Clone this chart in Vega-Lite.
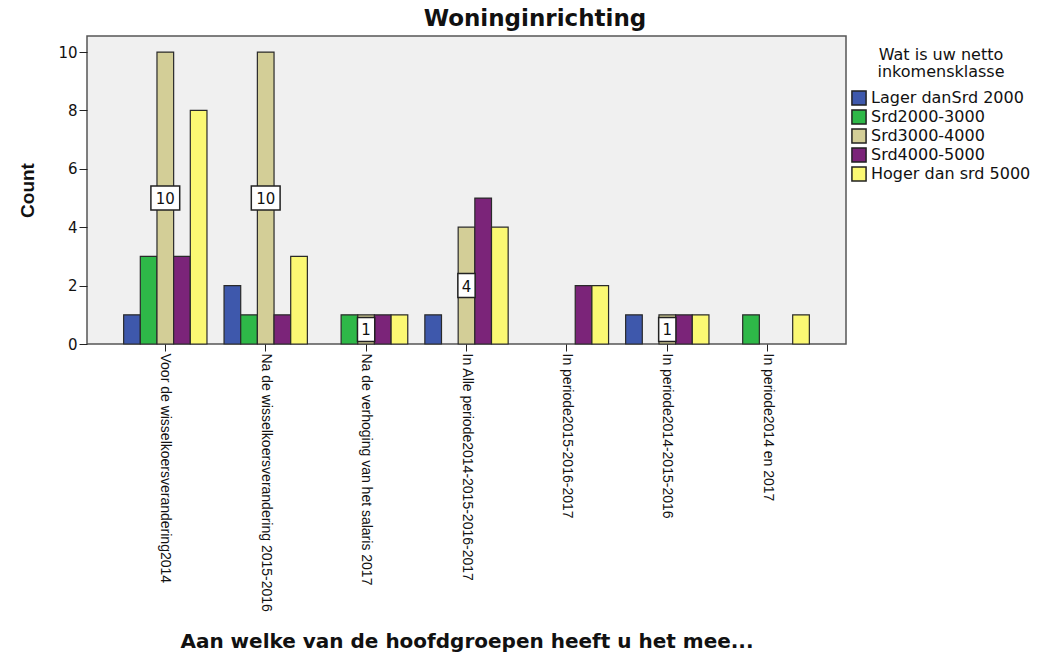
{
  "$schema": "https://vega.github.io/schema/vega-lite/v6.json",
  "width": 759,
  "height": 308,
  "padding": {"left": 18, "top": 8, "right": 2, "bottom": 2},
  "background": "white",
  "title": {
    "text": "Woninginrichting",
    "font": "DejaVu Sans",
    "fontSize": 23,
    "fontWeight": "bold",
    "color": "#111",
    "anchor": "middle",
    "frame": "bounds",
    "offset": 5,
    "dx": 10
  },
  "config": {
    "view": {"fill": "#F0F0F0", "stroke": "#555", "strokeWidth": 1.5},
    "axis": {"grid": false, "labelFont": "DejaVu Sans", "titleFont": "DejaVu Sans", "labelColor": "#111", "titleColor": "#111", "tickColor": "#222", "domainColor": "#555"},
    "legend": {"labelFont": "DejaVu Sans", "titleFont": "DejaVu Sans"}
  },
  "data": {
    "values": [
      {"cat": "Voor de wisselkoersverandering2014", "inc": "Lager danSrd 2000", "count": 1},
      {"cat": "Voor de wisselkoersverandering2014", "inc": "Srd2000-3000", "count": 3},
      {"cat": "Voor de wisselkoersverandering2014", "inc": "Srd3000-4000", "count": 10},
      {"cat": "Voor de wisselkoersverandering2014", "inc": "Srd4000-5000", "count": 3},
      {"cat": "Voor de wisselkoersverandering2014", "inc": "Hoger dan srd 5000", "count": 8},
      {"cat": "Na de wisselkoersverandering 2015-2016", "inc": "Lager danSrd 2000", "count": 2},
      {"cat": "Na de wisselkoersverandering 2015-2016", "inc": "Srd2000-3000", "count": 1},
      {"cat": "Na de wisselkoersverandering 2015-2016", "inc": "Srd3000-4000", "count": 10},
      {"cat": "Na de wisselkoersverandering 2015-2016", "inc": "Srd4000-5000", "count": 1},
      {"cat": "Na de wisselkoersverandering 2015-2016", "inc": "Hoger dan srd 5000", "count": 3},
      {"cat": "Na de verhoging van het salaris 2017", "inc": "Srd2000-3000", "count": 1},
      {"cat": "Na de verhoging van het salaris 2017", "inc": "Srd3000-4000", "count": 1},
      {"cat": "Na de verhoging van het salaris 2017", "inc": "Srd4000-5000", "count": 1},
      {"cat": "Na de verhoging van het salaris 2017", "inc": "Hoger dan srd 5000", "count": 1},
      {"cat": "In Alle periode2014-2015-2016-2017", "inc": "Lager danSrd 2000", "count": 1},
      {"cat": "In Alle periode2014-2015-2016-2017", "inc": "Srd3000-4000", "count": 4},
      {"cat": "In Alle periode2014-2015-2016-2017", "inc": "Srd4000-5000", "count": 5},
      {"cat": "In Alle periode2014-2015-2016-2017", "inc": "Hoger dan srd 5000", "count": 4},
      {"cat": "In periode2015-2016-2017", "inc": "Srd4000-5000", "count": 2},
      {"cat": "In periode2015-2016-2017", "inc": "Hoger dan srd 5000", "count": 2},
      {"cat": "In periode2014-2015-2016", "inc": "Lager danSrd 2000", "count": 1},
      {"cat": "In periode2014-2015-2016", "inc": "Srd3000-4000", "count": 1},
      {"cat": "In periode2014-2015-2016", "inc": "Srd4000-5000", "count": 1},
      {"cat": "In periode2014-2015-2016", "inc": "Hoger dan srd 5000", "count": 1},
      {"cat": "In periode2014 en 2017", "inc": "Srd2000-3000", "count": 1},
      {"cat": "In periode2014 en 2017", "inc": "Hoger dan srd 5000", "count": 1}
    ]
  },
  "encoding": {
    "x": {
      "field": "cat",
      "type": "nominal",
      "sort": null,
      "scale": {
        "domain": ["Voor de wisselkoersverandering2014", "Na de wisselkoersverandering 2015-2016", "Na de verhoging van het salaris 2017", "In Alle periode2014-2015-2016-2017", "In periode2015-2016-2017", "In periode2014-2015-2016", "In periode2014 en 2017"],
        "paddingInner": 0.17,
        "paddingOuter": 0.365
      },
      "axis": {
        "title": "Aan welke van de hoofdgroepen heeft u het mee...",
        "titleFont": "DejaVu Sans",
        "titleFontSize": 20,
        "titleFontWeight": "bold",
        "titleY": 303,
        "titleBaseline": "alphabetic",
        "labelAngle": 90,
        "labelAlign": "left",
        "labelBaseline": "middle",
        "labelFont": "Liberation Sans",
        "labelFontSize": 14,
        "labelPadding": 2,
        "labelLimit": 400,
        "tickSize": 7,
        "domain": false
      }
    },
    "xOffset": {
      "field": "inc",
      "type": "nominal",
      "scale": {"domain": ["Lager danSrd 2000", "Srd2000-3000", "Srd3000-4000", "Srd4000-5000", "Hoger dan srd 5000"], "paddingInner": 0, "paddingOuter": 0}
    }
  },
  "layer": [
    {
      "mark": {"type": "bar", "stroke": "#2a2a2a", "strokeWidth": 1.2},
      "encoding": {
        "y": {
          "field": "count",
          "type": "quantitative",
          "scale": {"domain": [0, 10.55], "nice": false},
          "axis": {
            "title": "Count",
            "titleFont": "Liberation Sans",
            "titleFontSize": 19,
            "titleFontWeight": "bold",
            "titlePadding": 20,
            "values": [0, 2, 4, 6, 8, 10],
            "labelFontSize": 15,
            "labelFont": "DejaVu Sans",
            "tickSize": 8,
            "domain": false
          }
        },
        "color": {
          "field": "inc",
          "type": "nominal",
          "scale": {
            "domain": ["Lager danSrd 2000", "Srd2000-3000", "Srd3000-4000", "Srd4000-5000", "Hoger dan srd 5000"],
            "range": ["#3E58AC", "#2EB848", "#D3CE97", "#7B2479", "#FBF873"]
          },
          "legend": {
            "title": ["Wat is uw netto", "inkomensklasse"],
            "orient": "none",
            "legendX": 764,
            "legendY": 11,
            "titleFontSize": 16,
            "titleFontWeight": "normal",
            "titleAlign": "center",
            "titleAnchor": "middle",
            "titleLineHeight": 17,
            "titlePadding": 10,
            "labelFontSize": 16,
            "labelColor": "#111",
            "titleColor": "#111",
            "symbolType": "square",
            "symbolSize": 200,
            "symbolStrokeColor": "#222",
            "symbolStrokeWidth": 1.5,
            "rowPadding": -4,
            "labelOffset": 4
          }
        }
      }
    },
    {
      "transform": [
        {"filter": "datum.inc === 'Srd3000-4000'"},
        {"calculate": "datum.count / 2", "as": "mid"}
      ],
      "mark": {"type": "point", "filled": true, "fill": "white", "stroke": "#222", "strokeWidth": 1.5, "opacity": 1},
      "encoding": {
        "y": {"field": "mid", "type": "quantitative"},
        "size": {"value": 576},
        "shape": {
          "condition": {"test": "datum.count >= 10", "value": "M-1.2,-1H1.2V1H-1.2Z"},
          "value": "M-0.72,-1H0.72V1H-0.72Z"
        }
      }
    },
    {
      "transform": [
        {"filter": "datum.inc === 'Srd3000-4000'"},
        {"calculate": "datum.count / 2", "as": "mid"}
      ],
      "mark": {"type": "text", "font": "DejaVu Sans", "fontSize": 15, "color": "#111", "baseline": "middle", "align": "center", "dy": 1},
      "encoding": {
        "y": {"field": "mid", "type": "quantitative"},
        "text": {"field": "count", "type": "quantitative"}
      }
    }
  ]
}
